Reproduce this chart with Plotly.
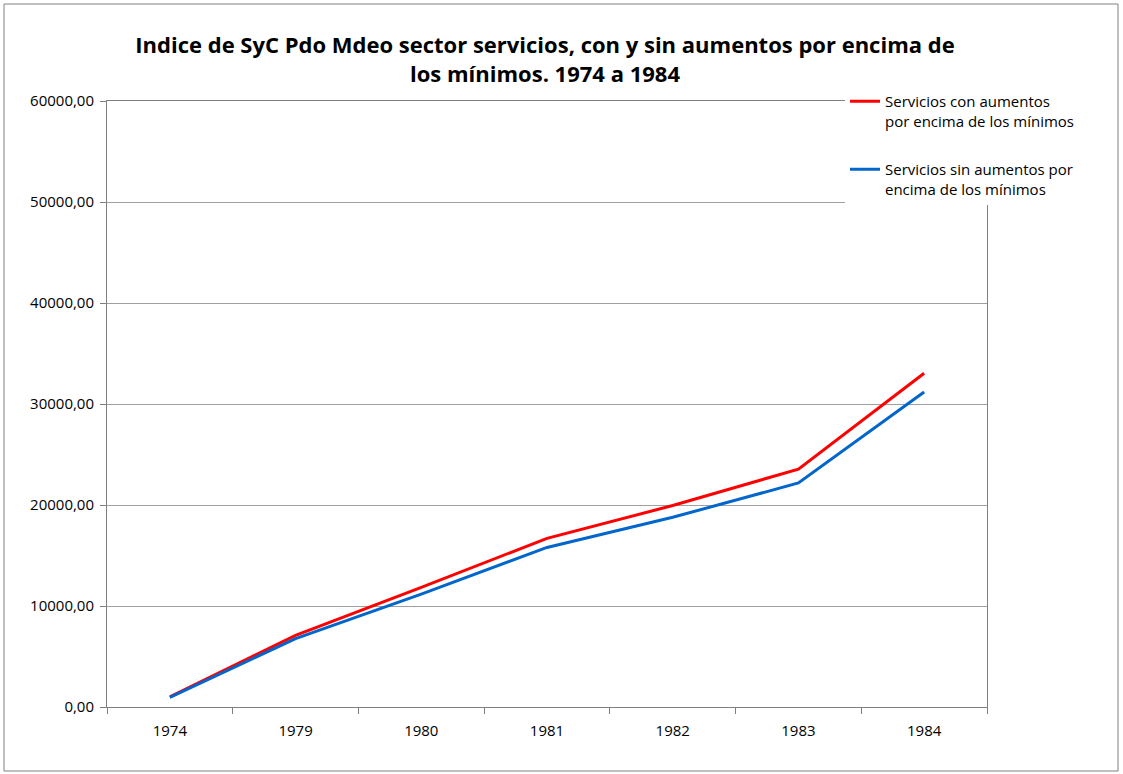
import plotly.graph_objects as go

years = ["1974", "1979", "1980", "1981", "1982", "1983", "1984"]
con_aumentos = [1000, 7100, 11850, 16700, 19950, 23550, 33050]
sin_aumentos = [950, 6780, 11180, 15800, 18780, 22180, 31180]

name_con = "Servicios con aumentos<br>por encima de los mínimos"
name_sin = "Servicios sin aumentos por<br>encima de los mínimos"
title_text = "<b>Indice de SyC Pdo Mdeo sector servicios, con y sin aumentos por encima de<br>los mínimos. 1974 a 1984</b>"

W, H = 1123, 774
L, R, T, B = 107, 136, 101, 67
pw, ph = W - L - R, H - T - B

def px_x(x):
    return (x - L) / pw

def px_y(y):
    return (H - B - y) / ph

fig = go.Figure()
fig.add_trace(go.Scatter(x=years, y=con_aumentos, mode="lines", name=name_con,
                         line=dict(color="#FF0000", width=3), legendgroup="a"))
fig.add_trace(go.Scatter(x=years, y=sin_aumentos, mode="lines", name=name_sin,
                         line=dict(color="#0066CC", width=3), legendgroup="b"))

font_family = "Open Sans, Noto Sans, sans-serif"

fig.update_layout(
    width=W, height=H,
    margin=dict(l=L, r=R, t=T, b=B),
    paper_bgcolor="white", plot_bgcolor="white",
    separators=",.",
    font=dict(family=font_family, size=15, color="#000000"),
    title=dict(text=title_text, x=545 / W, xanchor="center",
               y=1 - 53 / H, yanchor="top",
               font=dict(family=font_family, size=22, color="#000000")),
    showlegend=True,
    legend=dict(x=px_x(845), y=px_y(85), xanchor="left", yanchor="top",
                bgcolor="white", borderwidth=0, tracegroupgap=26, valign="top",
                font=dict(family=font_family, size=15, color="#000000")),
    xaxis=dict(type="category", tickson="boundaries", ticks="outside", ticklen=6,
               tickcolor="#808080", showline=True, linecolor="#808080", linewidth=1,
               mirror=True, showgrid=False, tickfont=dict(size=15),
               ticklabelstandoff=10, range=[-0.5, 6.5]),
    yaxis=dict(range=[0, 60000], dtick=10000, tickformat=".2f", ticks="outside",
               ticklen=6, tickcolor="#808080", showline=True, linecolor="#808080",
               linewidth=1, mirror=True, showgrid=True, gridcolor="#A0A0A0",
               gridwidth=1, zeroline=False, tickfont=dict(size=15),
               ticklabelstandoff=3),
)

fig.add_shape(type="rect", xref="paper", yref="paper",
              x0=px_x(4), x1=px_x(1118), y0=px_y(771), y1=px_y(4),
              line=dict(color="#808080", width=1), fillcolor="rgba(0,0,0,0)",
              layer="below")

fig.write_html("out.html", config={"displayModeBar": False},
               post_script="document.body.style.margin='0';document.body.style.overflow='hidden';")
